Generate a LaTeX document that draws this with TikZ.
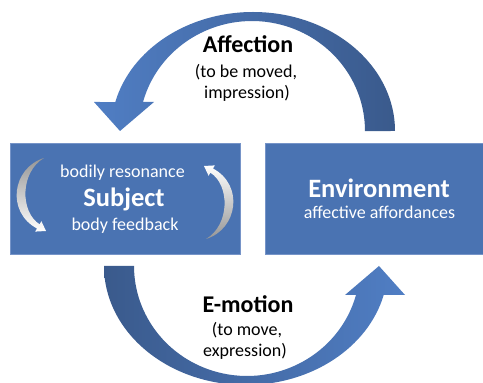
\documentclass[tikz,border=0pt]{standalone}
\usepackage{fontspec}
\setmainfont{Carlito}
\definecolor{boxblue}{RGB}{74,115,178}
\definecolor{boxedge}{RGB}{118,148,200}
\definecolor{arrowlight}{RGB}{80,126,196}
\definecolor{arrowdark}{RGB}{58,90,140}
\definecolor{curlgray}{RGB}{150,150,150}
\newcommand\colorBox{boxblue}
\newcommand\colorBoxEdge{boxedge}
\newcommand\colorArrowLight{arrowlight}
\newcommand\colorArrowDark{arrowdark}
\newcommand\colorCurl{curlgray}
\newcommand\picCenterX{249.5}
\newcommand\picCenterY{184.5}
\tikzset{
	panel/.style={fill=\colorBox, draw=\colorBoxEdge, line width=0.8pt, minimum height=111pt, inner sep=0pt},
	cycletitle/.style={anchor=base, font=\bfseries\fontsize{24}{28}\selectfont},
	cycletext/.style={anchor=base, font=\fontsize{18}{22}\selectfont},
	paneltitle/.style={anchor=base, text=white, font=\bfseries\fontsize{26.5}{30}\selectfont},
	paneltext/.style={anchor=base, text=white, font=\fontsize{18}{22}\selectfont}
}
% big arrow over the top, from Environment back to Subject
\newcommand\drawCycleArrow[2]{
	\shade[left color=#1, right color=#2]
	(395,252) arc[start angle=0, end angle=165.9, x radius=142, y radius=119] to
	(94,281) to (120,252) to (154,281) to
	(143,281) arc[start angle=164.7, end angle=0, x radius=113, y radius=110] to
	cycle;
}
% small curled arrow on the left side of the Subject box
\newcommand\drawCurlArrow[2]{
	\shade[top color=#1, bottom color=#2]
	(44,225) .. controls (12,215) and (6,171) .. (37,154.5) to
	(35.2,151.4) to (46,152) to (41.4,161.8) to
	(39.6,158.7) .. controls (20,171) and (20,211) .. (44,225) to
	cycle;
}

\begin{document}
\begin{tikzpicture}[x=1pt, y=1pt]
	\useasboundingbox (0,0) rectangle (483,383);
	\clip (0,0) rectangle (483,383);
	
	\node[panel, minimum width=230pt] (subject) at (125,184.5) {};
	\node[panel, minimum width=228pt] (environment) at (379,184.5) {};
	
	\drawCycleArrow{\colorArrowLight}{\colorArrowDark}
	\begin{scope}[rotate around={180:(\picCenterX,\picCenterY)}]
		\drawCycleArrow{\colorArrowDark}{\colorArrowLight}
	\end{scope}
	
	\drawCurlArrow{\colorCurl}{white}
	\begin{scope}[rotate around={180:(subject.center)}]
		\drawCurlArrow{white}{\colorCurl}
	\end{scope}
	
	\node[paneltext] (resonance) at (122.5,205) {bodily resonance};
	\node[paneltitle] (subjecttitle) at (124,176) {Subject};
	\node[paneltext] (feedback) at (125,152) {body feedback};
	
	\node[paneltitle] (envtitle) at (379,185) {Environment};
	\node[paneltext] (affordances) at (379.5,164) {affective affordances};
	
	\node[cycletitle] (affection) at (248,330) {Affection};
	\node[cycletext] (moved) at (246,305) {(to be moved,};
	\node[cycletext] (impression) at (247,284) {impression)};
	
	\node[cycletitle] (emotion) at (248,70) {E-motion};
	\node[cycletext] (move) at (247,47) {(to move,};
	\node[cycletext] (expression) at (245,26) {expression)};
\end{tikzpicture}
\end{document}
